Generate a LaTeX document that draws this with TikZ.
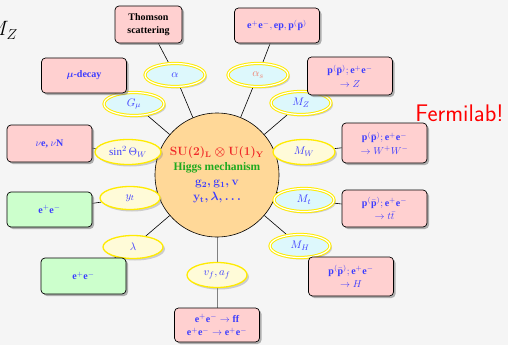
\documentclass[tikz,border=0pt]{standalone}
\usepackage{amsmath,amssymb,bm}
\usepackage{fontspec}
\setmainfont{Liberation Serif}
\usetikzlibrary{shapes.geometric,shadows}

\definecolor{canvasgray}{RGB}{245,245,245}
\definecolor{hubfill}{RGB}{255,216,152}
\definecolor{boxpink}{RGB}{255,208,208}
\definecolor{boxgreen}{RGB}{204,255,204}
\definecolor{lightcyan}{RGB}{221,248,252}
\definecolor{lightyellow}{RGB}{255,251,216}
\definecolor{ringyellow}{RGB}{255,235,0}
\definecolor{textblue}{RGB}{60,60,255}
\definecolor{smred}{RGB}{240,40,40}
\definecolor{higgsgreen}{RGB}{30,170,30}
\definecolor{alphascol}{RGB}{240,128,110}

\pgfdeclarelayer{canvas}
\pgfdeclarelayer{wires}
\pgfsetlayers{canvas,wires,main}

\tikzset{
  hub/.style={circle, draw, line width=0.6pt, fill=hubfill, minimum size=124pt, inner sep=0pt, align=center,
    font=\fontsize{11.5}{15}\selectfont\bfseries\boldmath},
  param/.style={ellipse, draw=ringyellow, line width=1.3pt, fill=lightyellow, minimum width=60pt, minimum height=23pt,
    inner sep=0pt, text=textblue, font=\fontsize{11}{13}\selectfont,
    drop shadow={opacity=0.35, shadow xshift=2pt, shadow yshift=-2pt}},
  measured/.style={param, line width=1pt, double=white, double distance=1.2pt, fill=lightcyan},
  result/.style={rectangle, rounded corners=4pt, draw, line width=0.7pt, fill=boxpink, minimum width=85pt,
    minimum height=36pt, align=center, text=textblue, font=\fontsize{10}{13.5}\selectfont\bfseries,
    drop shadow={opacity=0.6, shadow xshift=2pt, shadow yshift=-2pt}},
  lowenergy/.style={result, fill=boxgreen},
  wire/.style={line width=0.6pt}
}

\begin{document}
\begin{tikzpicture}[x=1pt, y=-1pt]
  \useasboundingbox (0,0) rectangle (508,345);
  \begin{pgfonlayer}{canvas}
    \fill[canvasgray] (0,0) rectangle (508,345);
  \end{pgfonlayer}

  % standard model in the middle
  \node[hub] (sm) at (217,175) {\textcolor{smred}{$\mathbf{SU(2)_L\otimes U(1)_Y}$}\\
    \textcolor{higgsgreen}{Higgs mechanism}\\
    \textcolor{textblue}{$\mathbf{g_2}, \mathbf{g_1}, \mathbf{v}$}\\
    \textcolor{textblue}{$\mathbf{y_t}, \lambda, \ldots$}};

  % parameters
  \node[measured] (alpha) at (175,75) {$\alpha$};
  \node[measured, text=alphascol] (alphas) at (258,75) {$\alpha_s$};
  \node[measured] (Gmu) at (134,104) {$G_\mu$};
  \node[measured] (MZ) at (301,103) {$M_Z$};
  \node[param, minimum width=66pt, minimum height=25pt] (sinW) at (128,152) {$\sin^2\Theta_W$};
  \node[param, minimum width=62pt, minimum height=25pt] (MW) at (304,152) {$M_W$};
  \node[param] (yt) at (130,198) {$y_t$};
  \node[measured] (Mt) at (304,200) {$M_t$};
  \node[param] (lam) at (133,247) {$\lambda$};
  \node[measured] (MH) at (300,246) {$M_H$};
  \node[param, minimum height=25pt] (vfaf) at (217,275) {$v_f, a_f$};

  % experiments
  \node[result, text=black, minimum width=67pt, minimum height=37pt] (thomson) at (148.5,24.5) {Thomson\\scattering};
  \node[result, minimum height=35pt] (eeep) at (277,25.5) {$\mathbf{e^+e^-}, \mathbf{ep}, \mathbf{p}^{(}\bar{\mathbf{p}}^{)}$};
  \node[result, minimum height=35pt] (mudecay) at (84,75.5) {$\bm{\mu}$-decay};
  \node[result, minimum height=38pt] (ppZ) at (350,76) {$\mathbf{p}^{(}\bar{\mathbf{p}}^{)}; \mathbf{e^+e^-}$\\ $\to Z$};
  \node[result, minimum height=37pt] (nuN) at (49.5,143.5) {$\nu$e, $\nu$N};
  \node[result, minimum height=40pt] (ppWW) at (384.5,143) {$\mathbf{p}^{(}\bar{\mathbf{p}}^{)}; \mathbf{e^+e^-}$\\ $\to W^+W^-$};
  \node[lowenergy, minimum height=35pt] (eelow) at (49.5,209.5) {$\mathbf{e^+e^-}$};
  \node[result, minimum height=37pt] (pptt) at (384.5,208.5) {$\mathbf{p}^{(}\bar{\mathbf{p}}^{)}; \mathbf{e^+e^-}$\\ $\to t\bar{t}$};
  \node[lowenergy, minimum height=36pt] (eeH) at (83.5,276) {$\mathbf{e^+e^-}$};
  \node[result, minimum height=39pt] (ppH) at (351,276.5) {$\mathbf{p}^{(}\bar{\mathbf{p}}^{)}; \mathbf{e^+e^-}$\\ $\to H$};
  \node[result, minimum height=34pt] (ffbar) at (217,325) {$\mathbf{e^+e^-}\to\mathbf{f\bar{f}}$\\ $\mathbf{e^+e^-}\to\mathbf{e^+e^-}$};

  \node[anchor=base east, inner sep=0pt, font=\fontsize{21}{21}\selectfont] (mzlabel) at (18,36) {$M_Z$};
  \node[anchor=base, inner sep=0pt, text=red, font=\sffamily\fontsize{24}{24}\selectfont] (lab) at (459.5,121) {Fermilab!};

  \begin{pgfonlayer}{wires}
    \foreach \p in {alpha,alphas,Gmu,MZ,sinW,MW,yt,Mt,lam,MH}
      \draw[wire] (sm) -- (\p);
    \foreach \p/\b in {alpha/thomson,alphas/eeep,Gmu/mudecay,MZ/ppZ,sinW/nuN,MW/ppWW,yt/eelow,Mt/pptt,lam/eeH,MH/ppH}
      \draw[wire] (\p) -- (\b);
    \draw[wire, gray, line width=1pt] (sm) -- (vfaf) -- (ffbar);
  \end{pgfonlayer}
\end{tikzpicture}
\end{document}
